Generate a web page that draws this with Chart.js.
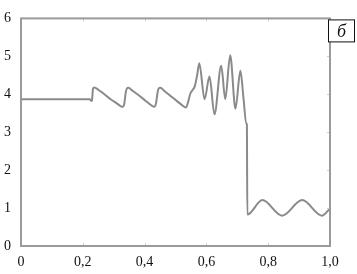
<!DOCTYPE html>
<html>
<head>
<meta charset="utf-8">
<script src="https://cdn.jsdelivr.net/npm/chart.js@4/dist/chart.umd.min.js"></script>
<style>
html,body{margin:0;padding:0;background:#fff;}
#wrap{width:357px;height:274px;position:relative;}
</style>
</head>
<body>
<div id="wrap"><canvas id="c" width="357" height="274"></canvas></div>
<script>
// x positions (dimensionless) and values
const xValues = [0, 0.222, 0.226, 0.229, 0.231, 0.233, 0.237, 0.25, 0.27, 0.29, 0.31, 0.322, 0.329,
  0.334, 0.339, 0.343, 0.348, 0.36, 0.38, 0.40, 0.415, 0.425, 0.431,
  0.437, 0.442, 0.446, 0.451, 0.465, 0.485, 0.505, 0.52, 0.53, 0.534,
  0.541, 0.548, 0.556, 0.562, 0.57, 0.577, 0.594, 0.610, 0.626, 0.648, 0.661, 0.677, 0.694, 0.710,
  0.72, 0.729, 0.731, 0.7325, 0.781, 0.845, 0.910, 0.974, 0.997, 1.0];
const yValues = [3.87, 3.87, 3.84, 3.82, 3.95, 4.15, 4.18, 4.12, 4.0, 3.87, 3.76, 3.69, 3.67,
  3.74, 4.05, 4.16, 4.17, 4.1, 3.98, 3.85, 3.75, 3.69, 3.67,
  3.76, 4.05, 4.16, 4.17, 4.08, 3.95, 3.82, 3.72, 3.66, 3.65,
  3.8, 4.02, 4.12, 4.2, 4.5, 4.82, 3.87, 4.47, 3.47, 4.75, 3.87, 5.03, 3.62, 4.62,
  3.9, 3.24, 3.2, 0.83, 1.21, 0.80, 1.21, 0.80, 0.95, 0.96];
const xTickLabels = ['0', '0,2', '0,4', '0,6', '0,8', '1,0'];
const yTickLabels = ['0', '1', '2', '3', '4', '5', '6'];
const panelLabel = 'б';
const serif = "'Liberation Serif', 'Times New Roman', serif";

const points = xValues.map((x, i) => ({x: x, y: yValues[i]}));

const framePlugin = {
  id: 'frame',
  afterDatasetsDraw(chart) {
    const {ctx, chartArea: a, scales} = chart;
    ctx.save();
    ctx.strokeStyle = '#d0d0d0';
    ctx.lineWidth = 1;
    for (let v = 0.2; v < 1; v += 0.2) {
      const px = Math.round(scales.x.getPixelForValue(v)) + 0.5;
      ctx.beginPath();
      ctx.moveTo(px, a.top); ctx.lineTo(px, a.top + 3);
      ctx.moveTo(px, a.bottom); ctx.lineTo(px, a.bottom - 3);
      ctx.stroke();
    }
    for (let v = 1; v < 6; v++) {
      const py = Math.round(scales.y.getPixelForValue(v)) + 0.5;
      ctx.beginPath();
      ctx.moveTo(a.right, py); ctx.lineTo(a.right - 3, py);
      ctx.stroke();
    }
    ctx.strokeStyle = '#9a9a9a';
    ctx.lineWidth = 2;
    ctx.strokeRect(a.left, a.top, a.right - a.left, a.bottom - a.top);
    const bx = a.right - 1.5, by = a.top + 1.5, bw = 26, bh = 22;
    ctx.fillStyle = '#fff';
    ctx.fillRect(bx, by, bw, bh);
    ctx.strokeStyle = '#111';
    ctx.lineWidth = 1;
    ctx.strokeRect(bx, by, bw, bh);
    ctx.fillStyle = '#111';
    ctx.font = "italic 18px " + serif;
    ctx.textAlign = 'center';
    ctx.textBaseline = 'middle';
    ctx.fillText(panelLabel, bx + bw / 2, by + bh / 2 + 1);
    ctx.restore();
  }
};

new Chart(document.getElementById('c'), {
  type: 'line',
  data: {
    datasets: [{
      data: points,
      borderColor: '#8a8a8a',
      borderWidth: 2,
      pointRadius: 0,
      fill: false,
      cubicInterpolationMode: 'monotone'
    }]
  },
  options: {
    responsive: false,
    animation: false,
    devicePixelRatio: 1,
    layout: {padding: {top: 7, right: 27, left: 0, bottom: 0}},
    plugins: {legend: {display: false}, tooltip: {enabled: false}},
    scales: {
      x: {
        type: 'linear', min: 0, max: 1,
        grid: {display: false, drawTicks: false},
        border: {display: false},
        afterFit(s) { s.height = 28; },
        afterBuildTicks(s) { s.ticks = xTickLabels.map((_, i) => ({value: i * 0.2})); },
        ticks: {
          padding: 8, color: '#111', maxRotation: 0, autoSkip: false,
          font: {family: serif, size: 14},
          callback: (v, i) => xTickLabels[i]
        }
      },
      y: {
        type: 'linear', min: 0, max: 6,
        grid: {display: false, drawTicks: false},
        border: {display: false},
        afterFit(s) { s.width = 21; },
        afterBuildTicks(s) { s.ticks = yTickLabels.map((_, i) => ({value: i})); },
        ticks: {
          padding: 10, color: '#111', autoSkip: false,
          font: {family: serif, size: 14},
          callback: (v, i) => yTickLabels[i]
        }
      }
    }
  },
  plugins: [framePlugin]
});
</script>
</body>
</html>
